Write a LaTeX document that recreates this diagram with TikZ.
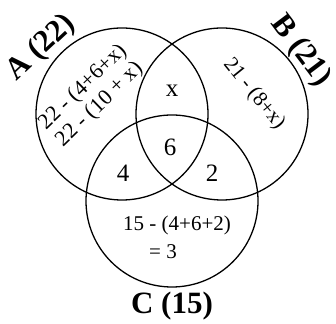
\documentclass[tikz,border=0pt]{standalone}
\usepackage{fontspec}
\setmainfont{Liberation Serif}
\tikzset{
  setlabel/.style={font=\fontsize{31}{31}\selectfont\bfseries, inner sep=0pt},
  region/.style={font=\fontsize{21}{20}\selectfont, inner sep=0pt, align=center},
  count/.style={font=\fontsize{25}{25}\selectfont, inner sep=0pt}
}
\begin{document}
\begin{tikzpicture}[x=1pt, y=1pt]
            \useasboundingbox (0,0) rectangle (336,323);

            % Draw circles
            \draw[line width=1.3pt] (122,209) circle (86);
            \draw[line width=1.3pt] (222,209) circle (86);
            \draw[line width=1.3pt] (172,122) circle (86);

            % Set labels
            \node[setlabel, rotate=43] (labA) at (41,275) {A (22)};
            \node[setlabel, rotate=-53] (labB) at (301,272) {B (21)};
            \node[setlabel] (labC) at (172,17) {C (15)};

            % Regions
            \node[region, rotate=44, font=\fontsize{22}{24}\selectfont] (onlyA) at (92,227) {22 - (4+6+x)\\22 - (10 + x)};
            \node[region, rotate=-51] (onlyB) at (254,229) {21 - (8+x)};
            \node[region] (onlyC) at (177,98) {15 - (4+6+2)};
            \node[region] (onlyCval) at (163,71) {= 3};
            \node[count] (AB) at (172,232) {x};
            \node[count] (ABC) at (170,176) {6};
            \node[count] (AC) at (123,150) {4};
            \node[count] (BC) at (212,150) {2};
        \end{tikzpicture}
\end{document}
